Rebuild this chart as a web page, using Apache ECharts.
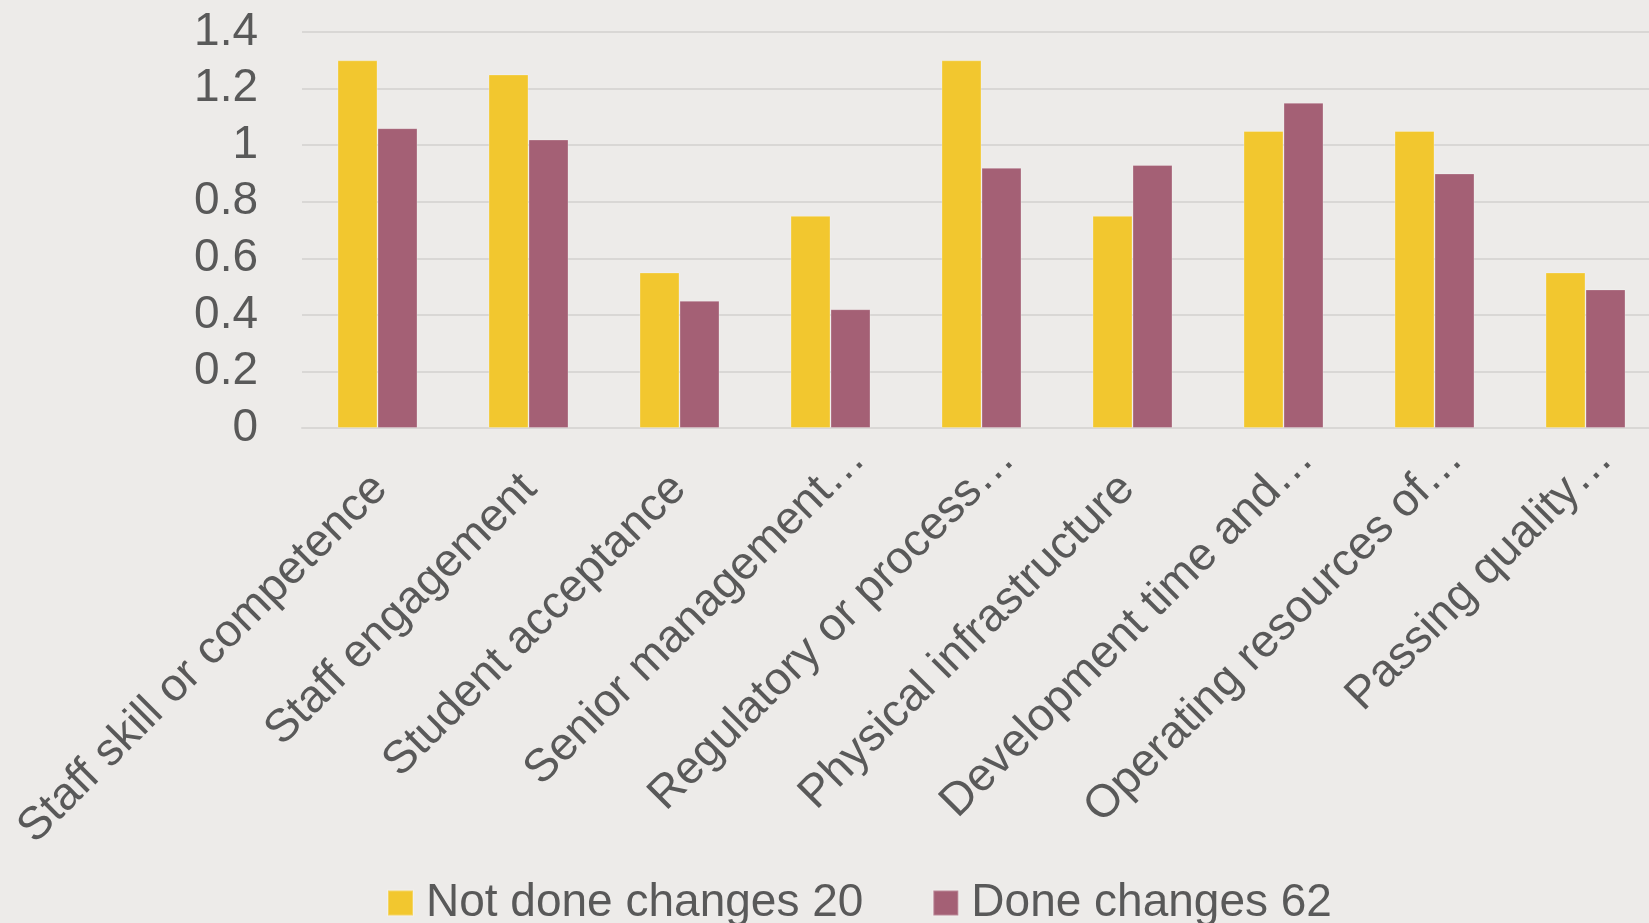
<!DOCTYPE html>
<html>
<head>
<meta charset="utf-8">
<title>Changes chart</title>
<script src="https://cdn.jsdelivr.net/npm/echarts@6/dist/echarts.min.js"></script>
<style>
  html, body { margin: 0; padding: 0; background: #edebe9; overflow: hidden; }
  /* plot area runs past the right edge in the original, so the canvas is a bit wider than the window */
  #chart { width: 1680px; height: 923px; }
</style>
</head>
<body>
<div id="chart"></div>
<script>
'use strict';

// categories (x axis), as truncated in the original
var categories = [
    'Staff skill or competence',
    'Staff engagement',
    'Student acceptance',
    'Senior management\u2026',
    'Regulatory or process\u2026',
    'Physical infrastructure',
    'Development time and\u2026',
    'Operating resources of\u2026',
    'Passing quality\u2026'
];

var notDoneName = 'Not done changes 20';
var notDone = [1.30, 1.25, 0.55, 0.75, 1.30, 0.75, 1.05, 1.05, 0.55];

var doneName = 'Done changes 62';
var done = [1.06, 1.02, 0.45, 0.42, 0.92, 0.93, 1.15, 0.90, 0.49];

var yTicks = [0, 0.2, 0.4, 0.6, 0.8, 1, 1.2, 1.4];

var textColor = '#595959';
var gridColor = '#d9d7d5';
var font = "'Liberation Sans', Arial, sans-serif";

// truncated labels sit further along than the full ones in the original,
// so the full ones get some right padding
var labelData = categories.map(function (c) {
    if (c.charAt(c.length - 1) === '\u2026') {
        return c;
    }
    return { value: c, textStyle: { padding: [0, 42, 4, 0] } };
});

var myChart = echarts.init(document.getElementById('chart'));

var option = {
    backgroundColor: '#edebe9',
    animation: false,
    textStyle: { fontFamily: font },
    grid: [
        { left: 302, top: 32, width: 1359, height: 396 },
        // only used for the rotated category labels
        { left: 335, top: 32, width: 1359, height: 396 }
    ],
    legend: {
        left: 387,
        top: 880,
        padding: 0,
        itemWidth: 25,
        itemHeight: 25,
        itemGap: 69,
        icon: 'rect',
        textStyle: {
            color: textColor,
            fontSize: 46,
            lineHeight: 46,
            fontFamily: font,
            padding: [0, 0, 0, 8]
        },
        data: [notDoneName, doneName]
    },
    xAxis: [
        {
            type: 'category',
            gridIndex: 0,
            data: categories,
            axisTick: { show: false },
            axisLabel: { show: false },
            axisLine: { lineStyle: { color: gridColor, width: 2 } }
        },
        {
            type: 'category',
            gridIndex: 1,
            data: labelData,
            axisTick: { show: false },
            axisLine: { show: false },
            splitLine: { show: false },
            axisLabel: {
                rotate: 45,
                interval: 0,
                margin: 24,
                color: textColor,
                fontSize: 46,
                fontFamily: font
            }
        }
    ],
    yAxis: [
        {
            type: 'value',
            gridIndex: 0,
            min: yTicks[0],
            max: yTicks[yTicks.length - 1],
            interval: 0.2,
            axisLine: { show: false },
            axisTick: { show: false },
            splitLine: { lineStyle: { color: gridColor, width: 2 } },
            axisLabel: {
                margin: 44,
                color: textColor,
                fontSize: 46,
                fontFamily: font
            }
        },
        {
            type: 'value',
            gridIndex: 1,
            show: false,
            min: yTicks[0],
            max: yTicks[yTicks.length - 1],
            splitLine: { show: false }
        }
    ],
    series: [
        {
            name: notDoneName,
            type: 'bar',
            data: notDone,
            barWidth: 40,
            barGap: '0%',
            itemStyle: { color: '#f2c72f', borderColor: 'rgba(255,255,255,0.25)', borderWidth: 1 }
        },
        {
            name: doneName,
            type: 'bar',
            data: done,
            barWidth: 40,
            itemStyle: { color: '#a46075', borderColor: 'rgba(255,255,255,0.25)', borderWidth: 1 }
        }
    ]
};

myChart.setOption(option);
</script>
</body>
</html>
